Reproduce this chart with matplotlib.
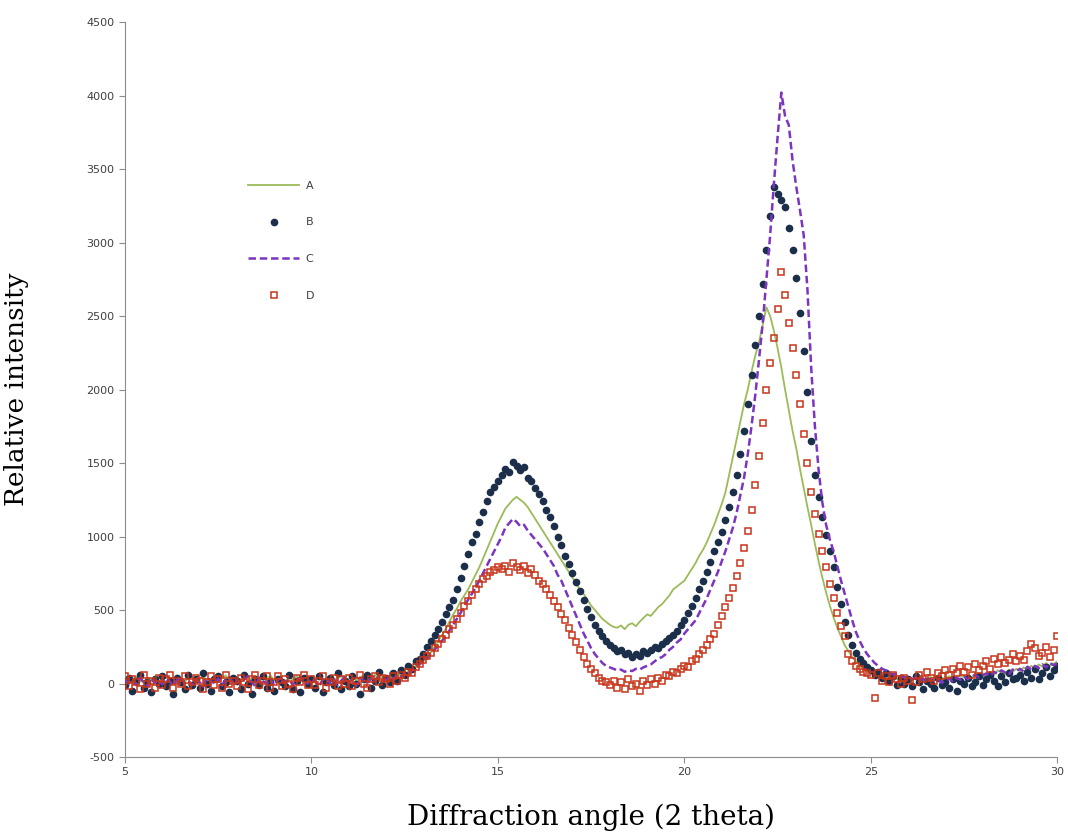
"""
XRD patterns of samples A-D, relative intensity vs 2 theta.
"""
import numpy as np
import matplotlib.pyplot as plt

plt.rcParams['axes.unicode_minus'] = False

# scan grid, 0.1 degree steps from 5 to 30
angle = np.linspace(5, 30, 251)

# values, one row per degree (x.0 ... x.9)
sample_a = [
    20, 35, 10, 45, 25, 5, 40, 30, 15, 50,
    25, 10, 40, 20, 55, 30, 15, 35, 45, 20,
    30, 50, 15, 25, 40, 10, 35, 55, 20, 30,
    45, 15, 30, 50, 20, 35, 10, 40, 25, 55,
    20, 40, 30, 15, 45, 25, 50, 30, 10, 35,
    40, 20, 55, 30, 15, 45, 25, 35, 50, 20,
    30, 45, 20, 40, 55, 25, 35, 60, 30, 45,
    50, 35, 60, 45, 70, 55, 85, 100, 120, 150,
    150, 180, 210, 250, 290, 330, 370, 420, 470, 510,
    560, 600, 640, 690, 740, 790, 850, 910, 970, 1030,
    1090, 1140, 1190, 1220, 1250, 1270, 1250, 1230, 1200, 1160,
    1120, 1080, 1040, 1000, 960, 920, 880, 840, 800, 760,
    720, 680, 640, 610, 570, 530, 500, 470, 440, 420,
    400, 385, 380, 395, 370, 400, 410, 390, 420, 445,
    470, 460, 490, 520, 540, 570, 600, 640, 660, 680,
    700, 740, 780, 820, 870, 910, 960, 1020, 1080, 1150,
    1220, 1300, 1420, 1540, 1660, 1780, 1900, 2000, 2120, 2230,
    2320, 2440, 2560, 2500, 2400, 2280, 2150, 2000, 1860, 1720,
    1600, 1460, 1330, 1200, 1080, 950, 830, 720, 620, 530,
    450, 380, 320, 260, 220, 180, 150, 120, 100, 85,
    70, 55, 60, 40, 50, 35, 45, 30, 40, 25,
    35, 20, 40, 25, 15, 30, 45, 20, 35, 40,
    30, 50, 25, 45, 60, 40, 55, 35, 65, 50,
    70, 55, 80, 60, 90, 75, 65, 95, 80, 100,
    85, 110, 95, 120, 100, 130, 115, 140, 120, 135,
    150]

sample_b = [
    -10, 40, -50, 20, 60, -30, 10, -60, 30, 0,
    50, -20, 20, -70, 40, 10, -40, 60, -10, 30,
    -30, 70, 0, -50, 30, 50, -20, 10, -60, 40,
    20, -40, 60, 0, -70, 30, -10, 50, -30, 10,
    -50, 30, 10, -20, 60, -40, 20, -60, 40, 0,
    30, -30, 50, -60, 10, 40, -10, 70, -40, 20,
    -20, 50, 0, -70, 30, 60, -30, 20, 80, -10,
    40, 10, 70, 20, 90, 60, 120, 100, 150, 170,
    200, 250, 290, 330, 370, 420, 470, 520, 570, 640,
    720, 800, 880, 960, 1020, 1100, 1170, 1240, 1300, 1340,
    1380, 1420, 1460, 1440, 1510, 1480, 1450, 1470, 1400, 1380,
    1330, 1290, 1240, 1180, 1130, 1070, 1000, 940, 870, 810,
    750, 690, 630, 570, 510, 450, 400, 360, 320, 290,
    260, 240, 220, 230, 200, 210, 180, 200, 190, 220,
    210, 230, 250, 240, 270, 290, 310, 330, 360, 400,
    430, 480, 530, 580, 640, 700, 760, 830, 900, 960,
    1030, 1110, 1200, 1300, 1420, 1560, 1720, 1900, 2100, 2300,
    2500, 2720, 2950, 3180, 3380, 3330, 3290, 3240, 3100, 2950,
    2760, 2520, 2260, 1980, 1650, 1420, 1270, 1130, 1010, 900,
    790, 660, 540, 420, 330, 260, 210, 170, 140, 110,
    90, 60, 80, 40, 70, 20, 50, -10, 40, 0,
    30, -20, 50, 10, -40, 20, 0, -30, 40, -10,
    10, -30, 30, -50, 20, 0, 40, -20, 10, 50,
    -10, 30, 60, 20, -20, 50, 10, 70, 30, 40,
    60, 20, 80, 40, 100, 30, 70, 110, 50, 90,
    120]

sample_c = [
    30, 0, 20, -10, 40, 10, -20, 30, 5, 20,
    -5, 35, 15, -15, 25, 45, 0, 20, -10, 30,
    10, -20, 40, 20, 0, 35, -15, 25, 45, 5,
    20, -10, 30, 50, 10, -20, 40, 15, 0, 35,
    -15, 25, 40, 5, 30, -10, 20, 45, 10, 0,
    35, 15, -20, 25, 40, 0, 30, -10, 20, 45,
    10, 30, -15, 40, 20, 0, 35, 15, 50, 25,
    20, 50, 30, 60, 45, 70, 60, 90, 110, 130,
    150, 170, 200, 230, 260, 290, 320, 360, 400, 440,
    480, 530, 570, 610, 650, 700, 750, 800, 850, 900,
    950, 1000, 1060, 1090, 1120, 1100, 1070, 1080, 1040, 1010,
    980, 950, 920, 880, 840, 800, 740, 700, 640, 580,
    520, 460, 400, 340, 290, 240, 200, 170, 140, 120,
    110, 100, 90, 95, 80, 90, 85, 100, 95, 110,
    120, 130, 150, 170, 180, 200, 230, 250, 280, 300,
    340, 370, 400, 430, 480, 530, 580, 640, 700, 760,
    830, 900, 980, 1060, 1160, 1280, 1400, 1560, 1750, 1960,
    2200, 2450, 2750, 3050, 3400, 3720, 4020, 3860, 3800, 3560,
    3380, 3220, 3050, 2680, 2150, 1750, 1450, 1230, 1080, 980,
    900, 800, 700, 610, 520, 430, 350, 290, 240, 200,
    170, 140, 120, 100, 90, 75, 60, 70, 50, 40,
    50, 30, 40, 20, 35, 10, 30, 15, 25, 5,
    20, 35, 10, 40, 25, 50, 30, 45, 60, 40,
    55, 70, 50, 80, 65, 90, 75, 60, 95, 85,
    100, 80, 115, 95, 120, 105, 130, 110, 140, 125,
    135]

sample_d = [
    50, -20, 30, 10, -40, 60, 0, 20, -30, 40,
    -10, 30, 60, -30, 20, 0, 50, -20, 10, 40,
    20, -40, 10, 50, -10, 30, -30, 60, 0, 20,
    -20, 40, 10, -40, 30, 60, -10, 20, 50, -30,
    10, 50, -20, 30, 0, -40, 40, 10, 60, -10,
    30, -10, 20, 50, -30, 10, 40, -20, 30, 0,
    40, -20, 20, 60, 0, -30, 30, 50, 10, 40,
    30, 0, 50, 20, 60, 40, 80, 70, 110, 130,
    160, 190, 210, 240, 270, 300, 330, 370, 400, 440,
    480, 530, 560, 600, 640, 680, 710, 730, 760, 770,
    790, 780, 800, 760, 820, 790, 770, 800, 750, 780,
    740, 700, 680, 640, 600, 560, 520, 470, 430, 380,
    330, 280, 230, 180, 130, 100, 70, 40, 20, 10,
    -10, 20, -30, 10, -40, 30, -20, 0, -50, 20,
    -10, 30, 0, 40, 20, 60, 50, 80, 70, 100,
    120, 110, 150, 170, 200, 230, 260, 300, 340, 400,
    460, 520, 580, 650, 730, 820, 920, 1040, 1180, 1350,
    1550, 1770, 2000, 2180, 2350, 2550, 2800, 2640, 2450, 2280,
    2100, 1900, 1700, 1500, 1300, 1150, 1020, 900, 790, 680,
    580, 480, 390, 320, 200, 150, 120, 100, 80, 70,
    60, -100, 70, 20, 50, 10, 60, 30, 0, 40,
    20, -110, 10, 60, 30, 80, 40, 20, 70, 50,
    90, 60, 100, 70, 120, 80, 110, 60, 130, 90,
    120, 150, 100, 170, 130, 180, 140, 160, 200, 150,
    190, 160, 220, 270, 240, 190, 210, 250, 180, 230,
    320]

fig = plt.figure(figsize=(10.68, 8.39), dpi=100)
ax = fig.add_axes([0.117, 0.0977, 0.873, 0.876])

ax.plot(angle, sample_a, color='#9BBB59', lw=1.3, label='A', zorder=2)
ax.plot(angle, sample_b, ls='none', marker='o', ms=4.5, color='#1B2F4B',
        label='B', zorder=3)
ax.plot(angle, sample_c, color='#7B35C0', lw=1.8, ls=(0, (3, 1.5)),
        label='C', zorder=4)
ax.plot(angle, sample_d, ls='none', marker='s', ms=4.3, mfc='none',
        mec='#C8361A', mew=1.1, label='D', zorder=5)

ax.set_xlim(5, 30)
ax.set_ylim(-500, 4500)
ax.set_xticks(range(5, 31, 5))
ax.set_yticks(range(-500, 4501, 500))

for side in ['top', 'right']:
    ax.spines[side].set_visible(False)
for side in ['left', 'bottom']:
    ax.spines[side].set_color('#8c8c8c')
ax.tick_params(labelsize=8, colors='#8c8c8c', labelcolor='#404040', length=4)

ax.set_ylabel('Relative intensity', family='DejaVu Serif', fontsize=19)
ax.yaxis.set_label_coords(-0.103, 0.5)
ax.set_xlabel('Diffraction angle (2 theta)', family='DejaVu Serif',
              fontsize=20)
ax.xaxis.set_label_coords(0.5, -0.064)

leg = ax.legend(loc='upper left', bbox_to_anchor=(0.132, 0.784),
                frameon=False, labelspacing=2.4, handlelength=4.6,
                handletextpad=0.6, numpoints=1, fontsize=8,
                borderaxespad=0, borderpad=0)
for t in leg.get_texts():
    t.set_color('#404040')

plt.savefig('out.png')
